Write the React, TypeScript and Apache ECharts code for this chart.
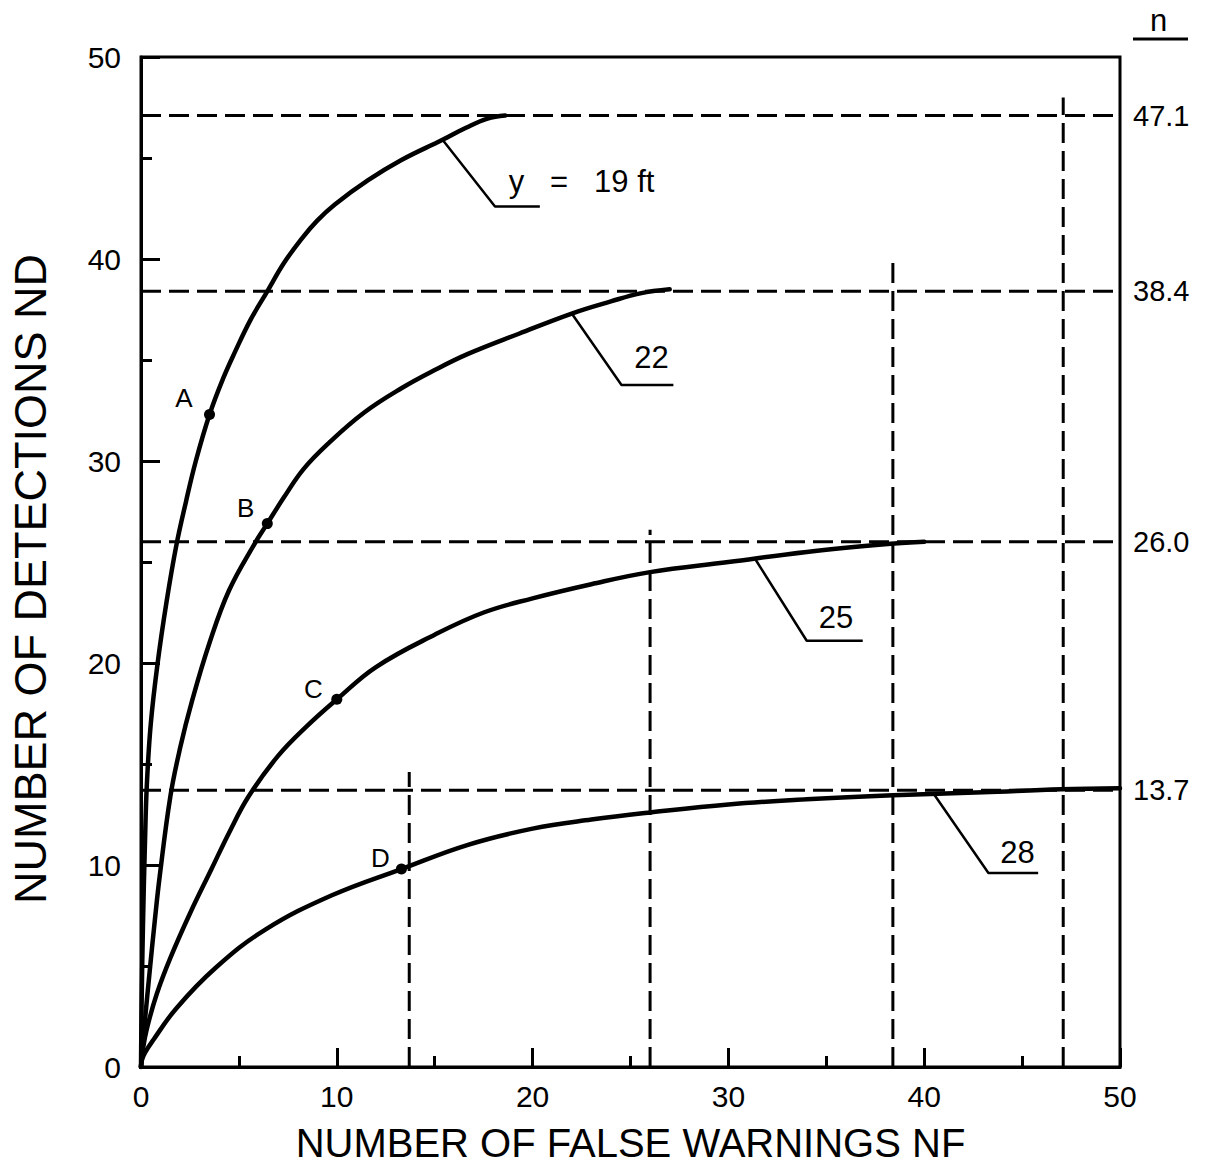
import React, { useEffect, useRef } from 'react';
import * as echarts from 'echarts';

// ---- data ----
const xTickLabels = [0, 10, 20, 30, 40, 50];
const yTickLabels = [0, 10, 20, 30, 40, 50];

const curve19: number[][] = [
  [0, 0], [0.03, 3], [0.1, 7], [0.2, 11], [0.3, 14], [0.5, 17], [0.85, 20], [1.3, 23], [1.8, 25.8],
  [2.3, 28], [2.8, 30], [3.5, 32.3], [4.2, 34.1], [4.8, 35.4], [5.6, 37], [6.45, 38.4], [7.3, 39.8],
  [8.2, 41.0], [9.0, 41.9], [9.9, 42.7], [11.6, 43.9], [13.3, 44.9], [15.4, 45.9], [16.6, 46.5],
  [17.7, 46.95], [18.6, 47.1],
];
const curve22: number[][] = [
  [0, 0], [0.08, 1.0], [0.2, 2.3], [0.45, 4.8], [0.7, 7.2], [0.95, 9.4], [1.5, 13.4], [2.0, 15.8],
  [2.6, 18.1], [3.5, 21], [4.5, 23.6], [5.8, 25.9], [6.45, 26.9], [7.3, 28.2], [8.3, 29.6], [9.6, 30.9],
  [11.4, 32.4], [13.3, 33.6], [15, 34.5], [16.7, 35.3], [19.3, 36.3], [22, 37.3], [24, 37.9],
  [25.5, 38.3], [27, 38.5],
];
const curve25: number[][] = [
  [0, 0], [0.1, 0.9], [0.3, 1.9], [0.8, 3.6], [1.5, 5.4], [2.5, 7.6], [3.6, 9.8], [4.5, 11.6],
  [5.5, 13.4], [7, 15.4], [8.5, 16.9], [10, 18.2], [12, 19.8], [15, 21.4], [17.5, 22.5], [20, 23.2],
  [23, 23.9], [26, 24.5], [30, 25.0], [34, 25.5], [38.3, 25.9], [40, 26.0],
];
const curve28: number[][] = [
  [0, 0], [0.05, 0.35], [0.2, 0.7], [0.6, 1.3], [1.8, 2.9], [3.8, 4.9], [6.35, 6.8], [9.75, 8.5],
  [13.3, 9.8], [16.7, 11.0], [20, 11.8], [23, 12.25], [26, 12.6], [30, 13.0], [34, 13.25],
  [38.4, 13.45], [43, 13.6], [47, 13.75], [50, 13.8],
];
const curves = [curve19, curve22, curve25, curve28];
const curveLabels = ['y   =   19 ft', '22', '25', '28'];
const curveLabelAnchors: number[][] = [[22.5, 43.86], [26.07, 35.1], [35.49, 22.23], [44.76, 10.64]];
const leaders: number[][][] = [
  [[15.4, 45.9], [18.08, 42.6], [20.37, 42.6]],
  [[22.0, 37.3], [24.54, 33.76], [27.19, 33.76]],
  [[31.4, 25.1], [34.0, 21.1], [36.86, 21.1]],
  [[40.5, 13.5], [43.28, 9.6], [45.82, 9.6]],
];

// n levels (right-hand scale) and vertical drop lines
const nLevels = [47.1, 38.4, 26.0, 13.7];
const dropTops = [48.0, 40.0, 26.6, 14.6];

// marked points A-D
const pointNames = ['A', 'B', 'C', 'D'];
const pointX = [3.5, 6.45, 10.0, 13.3];
const pointY = [32.3, 26.9, 18.2, 9.8];
const pointLabelAnchors: number[][] = [[2.19, 33.12], [5.35, 27.67], [8.81, 18.71], [12.22, 10.35]];

const FONT = '"Liberation Sans", Arial, Helvetica, sans-serif';

export default function App() {
  const ref = useRef<HTMLDivElement>(null);
  useEffect(() => {
    const chart = echarts.init(ref.current!, null, { renderer: 'svg' });
    const black = '#000';
    const dash = [20, 8];

    const series: any[] = [];
    nLevels.forEach((lv) => {
      series.push({
        type: 'line',
        data: [[0, lv], [50, lv]],
        symbol: 'none',
        silent: true,
        z: 1,
        lineStyle: { color: black, width: 3, type: dash },
        endLabel: {
          show: true,
          formatter: () => lv.toFixed(1),
          distance: 13,
          color: black,
          fontSize: 29,
          fontFamily: FONT,
        },
      });
    });
    nLevels.forEach((lv, i) => {
      series.push({
        type: 'line',
        data: [[lv, 0], [lv, dropTops[i]]],
        symbol: 'none',
        silent: true,
        z: 1,
        lineStyle: { color: black, width: 3, type: dash },
      });
    });
    curves.forEach((c) => {
      series.push({
        type: 'line',
        data: c,
        symbol: 'none',
        smooth: 0.4,
        silent: true,
        z: 3,
        lineStyle: { color: black, width: 4.5, join: 'round', cap: 'round' },
      });
    });
    leaders.forEach((l) => {
      series.push({
        type: 'line',
        data: l,
        symbol: 'none',
        silent: true,
        z: 2,
        lineStyle: { color: black, width: 2.5 },
      });
    });
    series.push({
      type: 'scatter',
      data: pointX.map((x, i) => [x, pointY[i]]),
      symbolSize: 11,
      itemStyle: { color: black, opacity: 1 },
      z: 4,
      silent: true,
    });
    series.push({
      type: 'scatter',
      data: pointNames.map((n, i) => ({ name: n, value: pointLabelAnchors[i] })),
      symbolSize: 1,
      itemStyle: { color: 'rgba(0,0,0,0)', opacity: 1 },
      silent: true,
      label: {
        show: true,
        position: 'inside',
        formatter: '{b}',
        color: black,
        fontSize: 26,
        fontFamily: FONT,
        textBorderWidth: 0,
      },
    });
    series.push({
      type: 'scatter',
      data: curveLabels.map((n, i) => ({ name: n, value: curveLabelAnchors[i] })),
      symbolSize: 1,
      itemStyle: { color: 'rgba(0,0,0,0)', opacity: 1 },
      silent: true,
      label: {
        show: true,
        position: 'inside',
        formatter: '{b}',
        color: black,
        fontSize: 31,
        fontFamily: FONT,
        textBorderWidth: 0,
      },
    });

    const axisCommon = {
      type: 'value',
      min: 0,
      max: 50,
      interval: 10,
      axisLine: { show: true, lineStyle: { color: black, width: 3 } },
      splitLine: { show: false },
      minorTick: { show: true, splitNumber: 2, length: 11, lineStyle: { color: black, width: 3 } },
      axisTick: { show: true, inside: true, length: 19, lineStyle: { color: black, width: 3 } },
    };

    chart.setOption({
      animation: false,
      backgroundColor: '#fff',
      grid: {
        left: 138,
        right: 95,
        top: 57,
        bottom: 105,
        show: true,
        borderColor: black,
        borderWidth: 3,
        backgroundColor: 'transparent',
      },
      xAxis: {
        ...axisCommon,
        name: 'NUMBER OF FALSE WARNINGS NF',
        nameLocation: 'middle',
        nameGap: 56,
        nameTextStyle: { color: black, fontSize: 40, fontFamily: FONT },
        axisLabel: {
          color: black,
          fontSize: 30,
          fontFamily: FONT,
          margin: 14,
          formatter: (v: number) => (xTickLabels.includes(v) ? String(v) : ''),
        },
      },
      yAxis: {
        ...axisCommon,
        name: 'NUMBER OF DETECTIONS ND',
        nameLocation: 'middle',
        nameGap: 88,
        nameTextStyle: { color: black, fontSize: 45, fontFamily: FONT, padding: [0, 34, 0, 0] },
        axisLabel: {
          color: black,
          fontSize: 30,
          fontFamily: FONT,
          margin: 20,
          formatter: (v: number) => (yTickLabels.includes(v) ? String(v) : ''),
        },
      },
      graphic: [
        {
          type: 'text',
          left: 1150,
          top: 5,
          style: { text: 'n', fontSize: 31, fontFamily: FONT, fill: black },
        },
        {
          type: 'line',
          shape: { x1: 1133, y1: 39, x2: 1188, y2: 39 },
          style: { stroke: black, lineWidth: 3 },
        },
      ],
      series,
    });
    return () => chart.dispose();
  }, []);
  return (
    <div
      ref={ref}
      style={{ position: 'absolute', left: 0, top: 0, width: 1215, height: 1172, background: '#fff' }}
    />
  );
}
